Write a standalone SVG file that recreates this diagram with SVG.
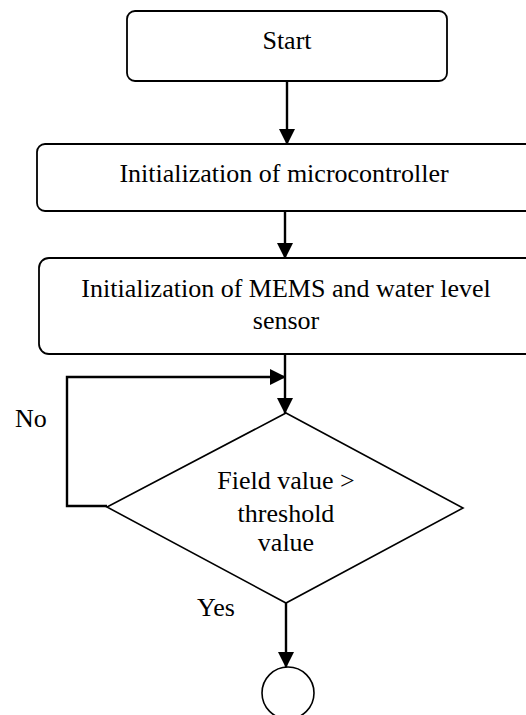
<svg xmlns="http://www.w3.org/2000/svg" width="526" height="715" viewBox="0 0 526 715">
<style>
.box{fill:#fff;stroke:#000;stroke-width:1.8}
.shape{fill:#fff;stroke:#000;stroke-width:1.6}
.conn{fill:none;stroke:#000;stroke-width:2.4}
text{font-family:"Liberation Serif","Times New Roman",serif;font-size:26px;fill:#000}
.c{text-anchor:middle}
</style>
<defs>
<marker id="ah" markerUnits="userSpaceOnUse" markerWidth="16" markerHeight="16" viewBox="0 0 16 16" refX="15" refY="8" orient="auto">
<path d="M0,0 L16,8 L0,16 Z" fill="#000"/>
</marker>
</defs>
<rect width="526" height="715" fill="#fff"/>
<g id="start">
<rect class="box" x="127" y="11" width="320" height="70" rx="8"/>
<text class="c" x="287" y="49">Start</text>
</g>
<g id="init-mcu">
<rect class="box" x="37" y="144" width="500" height="67" rx="8"/>
<text class="c" x="284" y="182">Initialization of microcontroller</text>
</g>
<g id="init-sensors">
<rect class="box" x="39" y="258" width="500" height="96" rx="10"/>
<text class="c" x="286" y="297">Initialization of MEMS and water level</text>
<text class="c" x="286" y="329">sensor</text>
</g>
<g id="decision">
<polygon class="shape" points="286,413 463,508 286,603 107,507"/>
<text class="c" x="286" y="489">Field value &gt;</text>
<text class="c" x="286" y="522">threshold</text>
<text class="c" x="286" y="551">value</text>
</g>
<g id="end">
<circle class="shape" cx="288" cy="693" r="26"/>
</g>
<g id="connectors">
<line class="conn" x1="287" y1="81" x2="287" y2="144" marker-end="url(#ah)"/>
<line class="conn" x1="285" y1="211" x2="285" y2="258" marker-end="url(#ah)"/>
<line class="conn" x1="285" y1="354" x2="285" y2="413" marker-end="url(#ah)"/>
<polyline class="conn" points="107,506 67,506 67,377 285,377" marker-end="url(#ah)"/>
<line class="conn" x1="286" y1="603" x2="286" y2="667" marker-end="url(#ah)"/>
<text x="15" y="427">No</text>
<text x="197" y="616">Yes</text>
</g>
</svg>
